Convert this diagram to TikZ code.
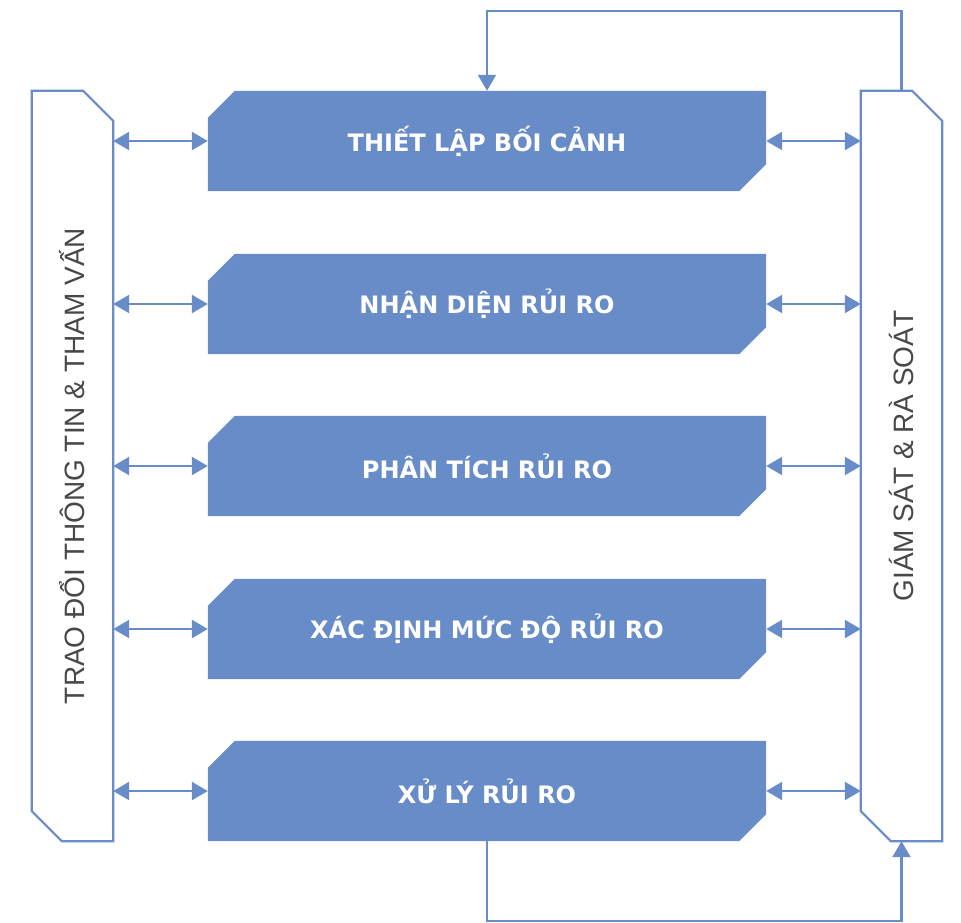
\documentclass[tikz,border=0pt]{standalone}
\usepackage{fontspec}
\setmainfont{Liberation Sans}
\newfontfamily\stepfont{DejaVu Sans}
\usetikzlibrary{arrows.meta,backgrounds}
\definecolor{stepblue}{RGB}{104,140,200}
\definecolor{sidegray}{RGB}{72,72,72}

% filled step box, chamfered at top-left and bottom-right
\newcommand\stepshape[1]{%
  \fill[stepblue] ([yshift=-27pt]#1.north west) -- ([xshift=27pt]#1.north west)
    -- (#1.north east) -- ([yshift=27pt]#1.south east)
    -- ([xshift=-27pt]#1.south east) -- (#1.south west) -- cycle;}
% outlined side bar, chamfered at top-right and bottom-left
\newcommand\sideshape[1]{%
  \draw[stepblue,line width=2.2pt,line join=miter] (#1.north west) -- ([xshift=-30pt]#1.north east)
    -- ([yshift=-30pt]#1.north east) -- (#1.south east)
    -- ([xshift=30pt]#1.south west) -- ([yshift=30pt]#1.south west) -- cycle;}

\begin{document}
\begin{tikzpicture}[x=1pt,y=-1pt,
  stepbox/.style={minimum width=558pt,minimum height=100pt,inner sep=0pt,
    text=white,font=\stepfont\bfseries\fontsize{24}{28}\selectfont},
  sidebar/.style={minimum width=81pt,minimum height=750pt,inner sep=0pt},
  sidetext/.style={rotate=90,text=sidegray,font=\fontsize{28}{32}\selectfont,inner sep=0pt},
  link/.style={stepblue,line width=2.4pt,{Triangle[length=16pt,width=18pt]}-{Triangle[length=16pt,width=18pt]}},
  flow/.style={stepblue,line width=2.2pt,-{Triangle[length=16pt,width=18pt]}}]
\useasboundingbox (0,0) rectangle (961,922);

\node[sidebar] (lb) at (72.5,466) {};
\node[sidebar] (rb) at (901.5,466) {};
\sideshape{lb}
\sideshape{rb}
\node[sidetext] (lt) at (72.5,466) {TRAO ĐỔI THÔNG TIN \& THAM VẤN};
\node[sidetext] (rt) at (901.5,456) {GIÁM SÁT \& RÀ SOÁT};

\node[stepbox] (s1) at (487,141) {THIẾT LẬP BỐI CẢNH};
\node[stepbox] (s2) at (487,304) {NHẬN DIỆN RỦI RO};
\node[stepbox] (s3) at (487,466) {PHÂN TÍCH RỦI RO};
\node[stepbox] (s4) at (487,629) {XÁC ĐỊNH MỨC ĐỘ RỦI RO};
\node[stepbox] (s5) at (487,791) {XỬ LÝ RỦI RO};

\begin{scope}[on background layer]
  \foreach \s in {s1,s2,s3,s4,s5}{\stepshape{\s}}
\end{scope}

\foreach \s in {s1,s2,s3,s4,s5}{
  \draw[link] (\s.west -| lb.east) -- (\s.west);
  \draw[link] (\s.east) -- (\s.east -| rb.west);
}

\coordinate (topline) at (0,11);
\coordinate (botline) at (0,921);
\draw[flow] (rb.north) |- (topline -| s1.north) -- (s1.north);
\draw[flow] (s5.south) |- (botline -| rb.south) -- (rb.south);
\end{tikzpicture}
\end{document}
